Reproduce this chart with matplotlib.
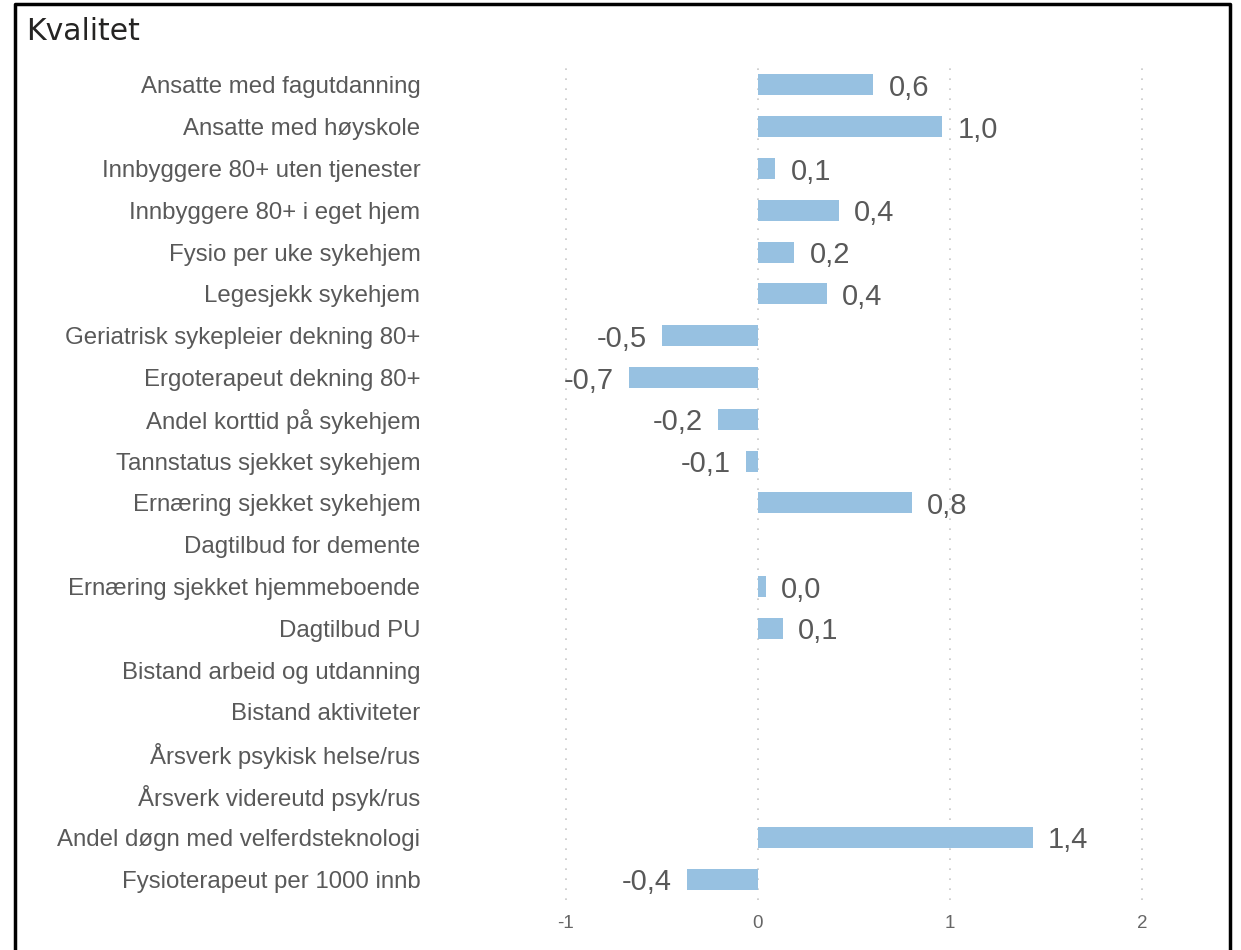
import matplotlib
matplotlib.use("Agg")
import matplotlib.pyplot as plt
from matplotlib.lines import Line2D

categories = [
    "Ansatte med fagutdanning",
    "Ansatte med høyskole",
    "Innbyggere 80+ uten tjenester",
    "Innbyggere 80+ i eget hjem",
    "Fysio per uke sykehjem",
    "Legesjekk sykehjem",
    "Geriatrisk sykepleier dekning 80+",
    "Ergoterapeut dekning 80+",
    "Andel korttid på sykehjem",
    "Tannstatus sjekket sykehjem",
    "Ernæring sjekket sykehjem",
    "Dagtilbud for demente",
    "Ernæring sjekket hjemmeboende",
    "Dagtilbud PU",
    "Bistand arbeid og utdanning",
    "Bistand aktiviteter",
    "Årsverk psykisk helse/rus",
    "Årsverk videreutd psyk/rus",
    "Andel døgn med velferdsteknologi",
    "Fysioterapeut per 1000 innb",
]
values = [0.60, 0.96, 0.09, 0.42, 0.19, 0.36, -0.50, -0.67, -0.21, -0.06,
          0.80, None, 0.04, 0.13, None, None, None, None, 1.43, -0.37]
xticks = [-1, 0, 1, 2]

plt.rcParams['font.family'] = ['Liberation Sans', 'DejaVu Sans']

fig = plt.figure(figsize=(12.41, 9.5), dpi=100)
ax = fig.add_axes([0.4406, 0.0526, 0.526, 0.88])

bar_color = "#97c1e1"
label_color = "#595959"

for i, v in enumerate(values):
    if v is None:
        continue
    ax.barh(i, v, height=0.5, color=bar_color, zorder=2)
    txt = f"{v:.1f}".replace(".", ",")
    if v >= 0:
        ax.annotate(txt, (v, i), xytext=(11, 0), textcoords="offset points",
                    ha="left", va="center_baseline", fontsize=21, color=label_color)
    else:
        ax.annotate(txt, (v, i), xytext=(-11, 0), textcoords="offset points",
                    ha="right", va="center_baseline", fontsize=21, color=label_color)

ax.set_xlim(-1.1, 2.3)
ax.set_ylim(19.5, -0.5)
ax.set_yticks(range(len(categories)))
ax.set_yticklabels(categories, fontsize=17.3, color=label_color)
ax.set_xticks(xticks)
ax.set_xticklabels([str(t) for t in xticks], fontsize=13.5, color="#666666")
ax.tick_params(axis='y', length=0, pad=91)
ax.tick_params(axis='x', length=0, pad=11)
ax.grid(axis='x', color="#c8c8c8", linestyle=(0, (1, 5)), linewidth=1.2, zorder=0)
for s in ax.spines.values():
    s.set_visible(False)

# title and outer frame
fig.text(26 / 1241, 1 - 29 / 950, "Kvalitet", fontsize=21.5, color="#252423",
         family="DejaVu Sans", ha="left", va="center_baseline")
fw, fh = 1241, 950
frame_x = [15 / fw, 15 / fw, 1230 / fw, 1230 / fw]
frame_y = [0, 1 - 4 / fh, 1 - 4 / fh, 0]
fig.add_artist(Line2D(frame_x, frame_y, color="black", linewidth=2.5,
                      transform=fig.transFigure))

fig.savefig("out.png", dpi=100, facecolor="white")
